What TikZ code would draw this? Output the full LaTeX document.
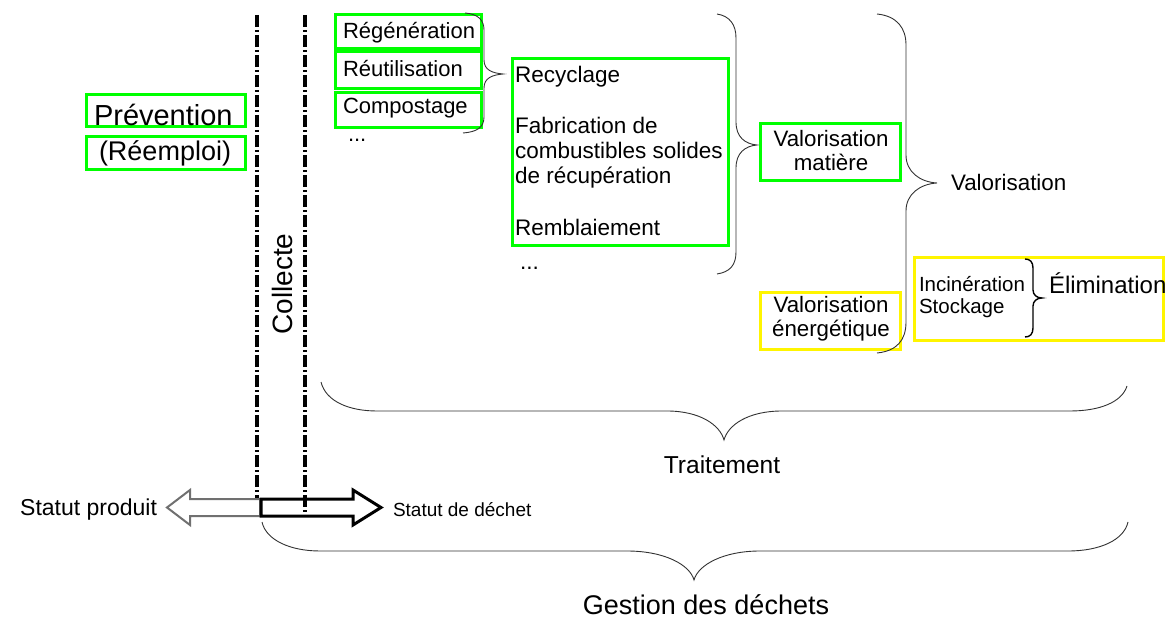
\documentclass[tikz,border=0pt]{standalone}
\usepackage{fontspec}
\setmainfont{Liberation Sans}
\definecolor{vert}{RGB}{0,255,0}
\definecolor{jaune}{RGB}{255,245,0}
\definecolor{gris}{RGB}{112,112,112}
\definecolor{accol}{RGB}{50,50,50}
\newcommand{\fs}[1]{\fontsize{#1}{#1}\selectfont}
\tikzset{
  gbox/.style={draw=vert, line width=3pt, inner sep=0pt, outer sep=0pt},
  ybox/.style={draw=jaune, line width=3pt, inner sep=0pt, outer sep=0pt},
  txt/.style={inner sep=0pt, outer sep=0pt},
  accolade/.style={draw=accol, line width=0.9pt},
  collectline/.style={line width=4pt, dash pattern=on 12pt off 3pt on 2pt off 3pt},
}
\begin{document}
\begin{tikzpicture}[x=1pt,y=-1pt]
\useasboundingbox (0,0) rectangle (1165,620);

% Prevention boxes
\node[gbox, minimum width=159pt, minimum height=32pt] (prev) at (166,110.5) {};
\node[gbox, minimum width=159pt, minimum height=33pt] (reem) at (166,153) {};
\node[txt, anchor=base west, font=\fs{29}] (tprev) at (94,126) {Prévention};
\node[txt, anchor=base west, font=\fs{27}] (treem) at (99,160.5) {(Réemploi)};

% Collecte lines
\coordinate (l1top) at (257,15);
\coordinate (l1bot) at (257,498);
\coordinate (l2top) at (305,15);
\coordinate (l2bot) at (305,512);

% Arrows
\draw[gris, line width=2pt, fill=white] (260,499) -- (190,499) -- (190,490) -- (167,507.5) -- (190,525) -- (190,516) -- (260,516) -- cycle;
\draw[black, line width=3pt, line join=miter, fill=white] (261,499) -- (353,499) -- (353,490) -- (381,507.5) -- (353,525) -- (353,516) -- (261,516) -- cycle;
\draw[collectline] (l1top) -- (l1bot);
\draw[collectline] (l2top) -- (l2bot);
\node[txt, rotate=90, anchor=base, font=\fs{28}] (collecte) at (292,284) {Collecte};
\node[txt, anchor=base east, font=\fs{23}] (sprod) at (157,515) {Statut produit};
\node[txt, anchor=base west, font=\fs{19}] (sdech) at (393,516) {Statut de déchet};

% Small boxes
\node[gbox, minimum width=146pt, minimum height=34pt] (regen) at (408.5,31.5) {};
\node[gbox, minimum width=146pt, minimum height=37.5pt] (reut) at (408.5,70.25) {};
\node[gbox, minimum width=146pt, minimum height=35pt] (compo) at (408.5,110) {};
\node[txt, anchor=base west, font=\fs{22}] at (343,39) {Régénération};
\node[txt, anchor=base west, font=\fs{22}] at (343,77) {Réutilisation};
\node[txt, anchor=base west, font=\fs{22}] at (343,114) {Compostage};
\node[txt, anchor=base west, font=\fs{22}] (dots1) at (348,142) {...};

\draw[accolade] (465,13) .. controls (478,14) and (484,20) .. (484,30) -- (484,60) .. controls (484,70) and (492,73) .. (503,74) .. controls (492,75) and (484,78) .. (484,88) -- (484,117) .. controls (484,128) and (476,132) .. (463,133);

% Recyclage box
\node[gbox, minimum width=216pt, minimum height=187pt] (recy) at (620.5,152) {};
\begin{scope}[every node/.style={txt, anchor=base west, font=\fs{22.5}}]
\node at (515,83) {Recyclage};
\node at (515,134) {Fabrication de};
\node at (515,159) {combustibles solides};
\node at (515,184) {de récupération};
\node at (515,236) {Remblaiement};
\node (dots2) at (520,270) {...};
\end{scope}

\draw[accolade] (717,14) .. controls (730,16) and (736,25) .. (736,38) -- (736,122) .. controls (736,137) and (745,144) .. (757,145) .. controls (745,146) and (736,153) .. (736,168) -- (736,252) .. controls (736,265) and (730,272) .. (717,274);

% Valorisation boxes
\node[gbox, minimum width=140pt, minimum height=57pt] (vmat) at (830.5,152) {};
\node[txt, anchor=base, font=\fs{22.3}] at (831,147) {Valorisation};
\node[txt, anchor=base, font=\fs{22.3}] at (831,171) {matière};
\node[ybox, minimum width=140pt, minimum height=57pt] (vene) at (830.5,321) {};
\node[txt, anchor=base, font=\fs{22.3}] at (831,313) {Valorisation};
\node[txt, anchor=base, font=\fs{22.3}] at (831,337) {énergétique};

\draw[accolade] (877,14) .. controls (897,16) and (906,28) .. (906,45) -- (906,155) .. controls (906,172) and (920,182) .. (937,183) .. controls (920,184) and (906,194) .. (906,211) -- (906,322) .. controls (906,340) and (897,351) .. (877,353);
\node[txt, anchor=base west, font=\fs{22.4}] (valo) at (951,191) {Valorisation};

% Elimination
\node[ybox, minimum width=249pt, minimum height=83pt] (elim) at (1039,299) {};
\node[txt, anchor=base west, font=\fs{20.5}] at (919,292) {Incinération};
\node[txt, anchor=base west, font=\fs{20.5}] at (919,314) {Stockage};
\draw[black, line width=1.4pt] (1025,259) .. controls (1030,259) and (1033,262) .. (1033,268) -- (1033,290) .. controls (1033,295) and (1037,298) .. (1042,298) .. controls (1037,298) and (1033,301) .. (1033,306) -- (1033,328) .. controls (1033,334) and (1030,337) .. (1025,337);
\node[txt, anchor=base west, font=\fs{24}] (telim) at (1049,294) {Élimination};

% Traitement brace
\draw[accolade] (321,382) .. controls (326,402) and (350,411) .. (377,411) -- (667,411) .. controls (700,411) and (720,425) .. (724,440) .. controls (728,425) and (748,411) .. (782,411) -- (1070,411) .. controls (1100,411) and (1122,402) .. (1127,386);
\node[txt, anchor=base, font=\fs{24.5}] (trait) at (722,473) {Traitement};

% Gestion brace
\draw[accolade] (262,522) .. controls (266,540) and (290,551) .. (320,551) -- (627,551) .. controls (665,551) and (690,565) .. (694,580) .. controls (698,565) and (723,551) .. (760,551) -- (1068,551) .. controls (1100,551) and (1124,540) .. (1128,522);
\node[txt, anchor=base, font=\fs{27}] (gest) at (706,614) {Gestion des déchets};
\end{tikzpicture}
\end{document}
